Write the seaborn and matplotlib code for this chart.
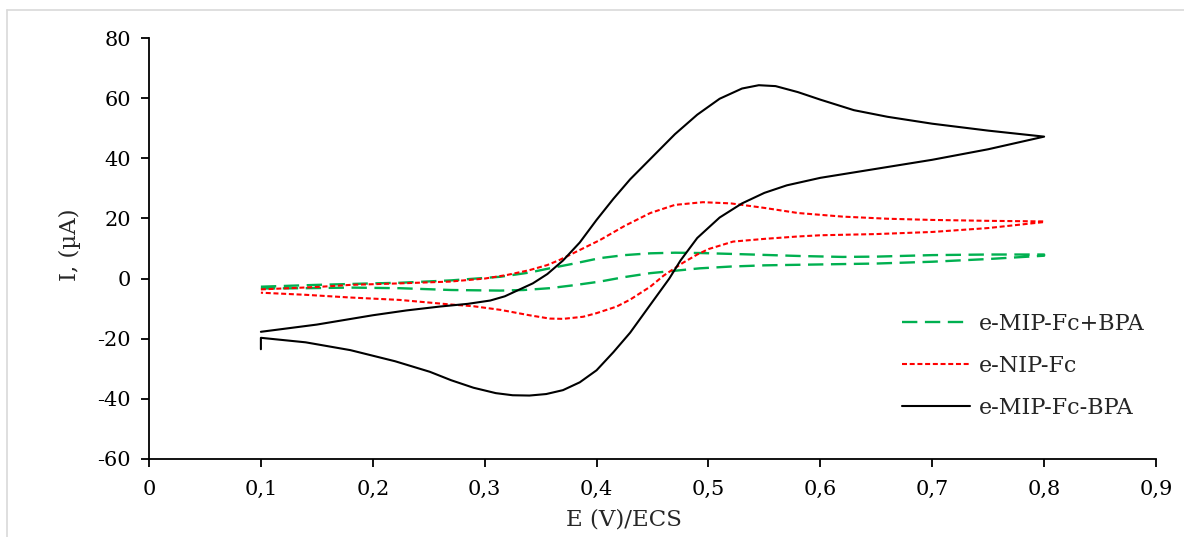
import numpy as np
import seaborn as sns
import pandas as pd
import matplotlib.pyplot as plt
from matplotlib.lines import Line2D
from matplotlib.ticker import FuncFormatter

# values (E in V vs ECS, I in microamps)
# e-MIP-Fc-BPA : anodic scan then cathodic scan
bpa_fwd_E = [0.1, 0.15, 0.2, 0.23, 0.26, 0.285, 0.305, 0.318, 0.329, 0.343, 0.356, 0.37, 0.385,
             0.4, 0.415, 0.43, 0.45, 0.47, 0.49, 0.51, 0.53, 0.545, 0.56, 0.58, 0.6, 0.63, 0.66,
             0.7, 0.75, 0.8]
bpa_fwd_I = [-17.7, -15.3, -12.2, -10.6, -9.3, -8.4, -7.3, -5.9, -4.0, -1.6, 1.5, 6.0, 12.0,
             19.5, 26.5, 33.0, 40.5, 48.0, 54.5, 59.8, 63.2, 64.3, 64.0, 62.0, 59.5, 56.0, 53.8,
             51.5, 49.2, 47.2]
bpa_rev_E = [0.8, 0.75, 0.7, 0.65, 0.6, 0.57, 0.55, 0.53, 0.51, 0.49, 0.475, 0.465, 0.45, 0.43,
             0.415, 0.4, 0.385, 0.37, 0.355, 0.34, 0.325, 0.31, 0.29, 0.27, 0.251, 0.22, 0.18,
             0.14, 0.1, 0.1]
bpa_rev_I = [47.2, 43.0, 39.5, 36.5, 33.5, 31.0, 28.5, 25.0, 20.3, 13.5, 6.0, 0.0, -7.7, -18.0,
             -24.5, -30.5, -34.5, -37.1, -38.4, -38.9, -38.8, -38.1, -36.3, -33.8, -31.0, -27.5,
             -23.8, -21.2, -19.7, -23.5]

# e-NIP-Fc
nip_fwd_E = [0.1, 0.15, 0.18, 0.224, 0.269, 0.3, 0.32, 0.34, 0.356, 0.367, 0.385, 0.403, 0.425,
             0.448, 0.47, 0.495, 0.52, 0.55, 0.58, 0.62, 0.66, 0.7, 0.75, 0.8]
nip_fwd_I = [-3.6, -2.8, -2.1, -1.6, -1.0, 0.0, 1.2, 2.8, 4.5, 6.2, 9.5, 12.8, 17.5,
             21.8, 24.5, 25.4, 25.0, 23.5, 21.8, 20.6, 19.9, 19.5, 19.2, 19.0]
nip_rev_E = [0.8, 0.75, 0.7, 0.65, 0.6, 0.58, 0.55, 0.522, 0.5, 0.49, 0.477, 0.46, 0.448, 0.43,
             0.418, 0.4, 0.388, 0.37, 0.358, 0.34, 0.314, 0.29, 0.269, 0.224, 0.18, 0.14, 0.1]
nip_rev_I = [18.8, 16.8, 15.5, 14.8, 14.4, 14.0, 13.2, 12.3, 9.8, 8.0, 5.2, 1.0, -2.7, -7.0,
             -9.3, -11.5, -12.7, -13.4, -13.3, -12.2, -10.4, -9.2, -8.6, -7.1, -6.3, -5.4, -4.7]

# e-MIP-Fc+BPA
mip_fwd_E = [0.1, 0.15, 0.2, 0.224, 0.27, 0.314, 0.34, 0.358, 0.38, 0.403, 0.425, 0.448, 0.47,
             0.492, 0.53, 0.582, 0.62, 0.65, 0.7, 0.75, 0.8]
mip_fwd_I = [-2.7, -2.1, -1.6, -1.4, -0.6, 0.6, 2.0, 3.4, 5.0, 6.8, 7.8, 8.4, 8.6,
             8.5, 8.1, 7.5, 7.2, 7.3, 7.8, 8.0, 8.0]
mip_rev_E = [0.8, 0.75, 0.7, 0.65, 0.6, 0.55, 0.52, 0.492, 0.47, 0.448, 0.425, 0.403, 0.38,
             0.358, 0.335, 0.314, 0.27, 0.224, 0.18, 0.14, 0.1]
mip_rev_I = [7.6, 6.5, 5.6, 5.0, 4.7, 4.4, 4.0, 3.4, 2.6, 1.8, 0.5, -1.0, -2.2,
             -3.2, -3.8, -4.0, -3.8, -3.2, -3.0, -3.2, -3.3]

labels = ["e-MIP-Fc+BPA", "e-NIP-Fc", "e-MIP-Fc-BPA"]
x_ticks = [0, 0.1, 0.2, 0.3, 0.4, 0.5, 0.6, 0.7, 0.8, 0.9]
y_ticks = [-60, -40, -20, 0, 20, 40, 60, 80]

frames = []
for name, E, I in [(labels[0], mip_fwd_E + mip_rev_E, mip_fwd_I + mip_rev_I),
                   (labels[1], nip_fwd_E + nip_rev_E, nip_fwd_I + nip_rev_I),
                   (labels[2], bpa_fwd_E + bpa_rev_E, bpa_fwd_I + bpa_rev_I)]:
    d = pd.DataFrame({"E": E, "I": I})
    d["curve"] = name
    frames.append(d)
df = pd.concat(frames, ignore_index=True)

sns.set_style("white")
plt.rcParams["font.family"] = ["DejaVu Serif"]

fig = plt.figure(figsize=(11.84, 5.37), dpi=100)
ax = fig.add_axes([149 / 1184, 1 - 459 / 537, 1007 / 1184, 421 / 537])

colors = {labels[0]: "#00B050", labels[1]: "#FF0000", labels[2]: "#000000"}
styles = {labels[0]: (0, (6.5, 3.2)), labels[1]: (0, (2.4, 1.3)), labels[2]: "-"}
widths = {labels[0]: 1.7, labels[1]: 1.5, labels[2]: 1.5}

for name in labels:
    sub = df[df["curve"] == name]
    sns.lineplot(data=sub, x="E", y="I", sort=False, estimator=None, ax=ax,
                 color=colors[name], linestyle=styles[name], linewidth=widths[name],
                 label=name, solid_joinstyle="round", dash_joinstyle="round")

ax.set_xlim(0, 0.9)
ax.set_ylim(-60, 80)
ax.set_xticks(x_ticks)
ax.set_yticks(y_ticks)
ax.xaxis.set_major_formatter(FuncFormatter(lambda v, p: "0" if v == 0 else ("%.1f" % v).replace(".", ",")))
ax.yaxis.set_major_formatter(FuncFormatter(lambda v, p: "%d" % v))
for s in ["top", "right"]:
    ax.spines[s].set_visible(False)
for s in ["left", "bottom"]:
    ax.spines[s].set_color("black")
    ax.spines[s].set_linewidth(1.3)
ax.tick_params(axis="both", which="major", direction="out", length=6, width=1.3,
               labelsize=15, colors="black", left=True, bottom=True)
ax.tick_params(axis="x", pad=9)
ax.tick_params(axis="y", pad=7)
ax.grid(False)

ax.set_xlabel("E (V)/ECS", fontsize=16.5)
ax.set_ylabel("I, (\u00b5A)", fontsize=16.5)
ax.xaxis.set_label_coords(0.472, -0.118)
ax.yaxis.set_label_coords(-0.068, 0.51)

leg = ax.legend(loc="center left", bbox_to_anchor=(0.748, 0.221), frameon=False, fontsize=16,
                handlelength=3.05, labelspacing=0.9, handletextpad=0.4,
                borderpad=0, borderaxespad=0)

# light frame visible on the reference
fig.add_artist(Line2D([7 / 1184, 7 / 1184], [0, 1 - 10 / 537], color="#d9d9d9", lw=1.2))
fig.add_artist(Line2D([7 / 1184, 1], [1 - 10 / 537, 1 - 10 / 537], color="#d9d9d9", lw=1.2))

fig.savefig("out.png", dpi=100)
